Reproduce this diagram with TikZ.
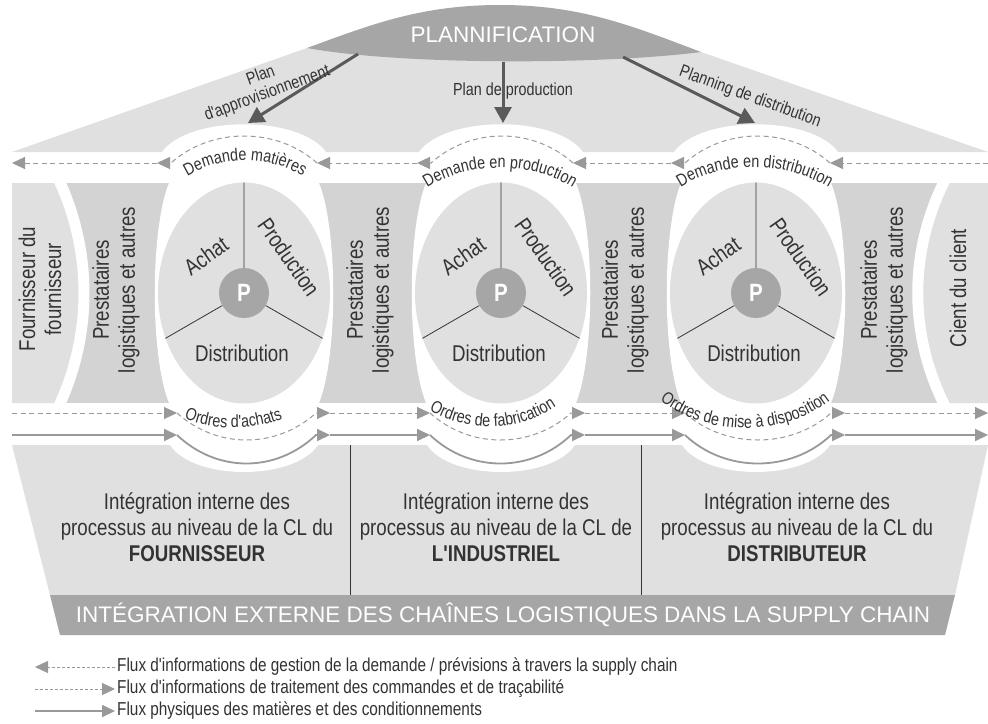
\documentclass[tikz,border=0pt]{standalone}
\usepackage{fontspec}
\setmainfont{Liberation Sans}[FakeStretch=0.82]
\newfontfamily\narrowf{Liberation Sans}[FakeStretch=0.82]
\newfontfamily\capsfont{Liberation Sans}
\usetikzlibrary{arrows.meta,shapes.geometric,decorations.text}

\definecolor{lightg}{HTML}{E0E0E0}
\definecolor{midg}{HTML}{D3D3D3}
\definecolor{darkg}{HTML}{A6A6A6}
\definecolor{flow}{HTML}{999999}
\definecolor{planc}{HTML}{5A5A5A}
\definecolor{txt}{HTML}{333333}

\begin{document}
\begin{tikzpicture}[x=1pt, y=-1pt,
  lbl/.style={font=\narrowf\fontsize{17.5}{19}\selectfont, text=txt, inner sep=0pt, align=center},
  leg/.style={font=\narrowf\fontsize{18.7}{20}\selectfont, text=txt, inner sep=0pt, anchor=west},
  big/.style={font=\narrowf\fontsize{22.8}{26}\selectfont, text=txt, align=center, inner sep=0pt},
  col/.style={big, rotate=90},
  title/.style={font=\capsfont\fontsize{22.5}{26}\selectfont, text=white, inner sep=0pt},
  ell/.style={ellipse, fill=lightg, minimum width=172pt, minimum height=221pt, inner sep=0pt},
  pnode/.style={circle, fill=darkg, minimum size=50pt, inner sep=0pt, text=white,
                font=\narrowf\bfseries\fontsize{25}{28}\selectfont},
  spoke/.style={draw=txt, line width=0.8pt},
  flowbase/.style={draw=flow, -{Triangle[length=13pt,width=12pt]}},
  dem/.style={flowbase, line width=1pt, dash pattern=on 5pt off 3.5pt},
  ord/.style={dem},
  phy/.style={flowbase, line width=1.8pt},
  plan/.style={draw=planc, line width=3pt, -{Triangle[length=16pt,width=17pt]}},
  curv/.style={decorate, decoration={text along path, text align=center,
               text={|\narrowf\fontsize{17.5}{19}\selectfont\color{txt}|#1}}}]
\useasboundingbox (0,0) rectangle (988,723);
\fill[white] (0,0) rectangle (988,723);

% roof and planning
\fill[lightg] (12,152) -- (307,48) -- (701,52) -- (988,152) -- cycle;
\fill[darkg] (307,48) .. controls (370,25) and (420,5) .. (500,5)
  .. controls (580,5) and (630,25) .. (701,52)
  .. controls (600,65) and (400,65) .. cycle;
\node[title] (plan) at (503,35) {PLANNIFICATION};

% columns
\fill[midg] (57,183) rectangle (988,403);
\fill[lightg] (12,183) -- (57,183) .. controls (93,250) and (93,336) .. (57,403) -- (12,403) -- cycle;
\fill[lightg] (988,183) -- (947,183) .. controls (908,250) and (908,336) .. (947,403) -- (988,403) -- cycle;
\draw[white, line width=11pt] (57,176) .. controls (93,250) and (93,336) .. (57,410);
\draw[white, line width=11pt] (947,176) .. controls (908,250) and (908,336) .. (947,410);

% internal / external integration
\fill[lightg] (12,445) -- (988,445) -- (955,595) -- (50,595) -- cycle;
\fill[darkg] (50,595) -- (955,595) -- (945,635) -- (60,635) -- cycle;
\draw[draw=txt, line width=1pt] (350,445) -- (350,595) (641,445) -- (641,595);

% the three actors
\foreach \c/\i in {244/1, 501/2, 756/3} {
  \fill[white] ({\c-82},152) .. controls ({\c-55},115) and ({\c+55},115) .. ({\c+82},152)
    -- ({\c+75},183) .. controls ({\c+94},230) and ({\c+94},356) .. ({\c+75},403)
    -- ({\c+74},445) .. controls ({\c+50},481) and ({\c-50},481) .. ({\c-74},445)
    -- ({\c-75},403) .. controls ({\c-94},356) and ({\c-94},230) .. ({\c-75},183) -- cycle;
  \node[ell] (E\i) at (\c,293) {};
  \node[pnode] (P\i) at (\c,293) {P};
  \draw[spoke] (P\i) -- (E\i.north) (P\i) -- (E\i.210) (P\i) -- (E\i.330);
  \node[big, rotate=35] (A\i) at ({\c-38},256) {Achat};
  \node[big, rotate=-55] (Pr\i) at ({\c+45},257) {Production};
  \node[big] (D\i) at ({\c-2},353) {Distribution};
}

\node[col] (ff) at (40,289) {Fournisseur du\\fournisseur};
\node[col] (pl1) at (116,290) {Prestataires\\logistiques et autres};
\node[col] (pl2) at (370,290) {Prestataires\\logistiques et autres};
\node[col] (pl3) at (625,290) {Prestataires\\logistiques et autres};
\node[col] (pl4) at (884,290) {Prestataires\\logistiques et autres};
\node[col] (cc) at (958,288) {Cient du client};

% planning arrows
\coordinate (pa1) at (358,54); \coordinate (t1) at (248,123);
\coordinate (pa2) at (503,62); \coordinate (t2) at (503,123);
\coordinate (pa3) at (623,57); \coordinate (t3) at (755,123);
\draw[plan] (pa1) -- (t1);
\draw[plan] (pa2) -- (t2);
\draw[plan] (pa3) -- (t3);
\node[lbl, rotate=20] (lpa) at (264,85) {Plan\\d'approvisionnement};
\node[lbl] (lpp) at (513,91) {Plan de production};
\node[lbl, rotate=-20] (lpd) at (750,97) {Planning de distribution};

% demand flow
\coordinate (d1) at (988,163); \coordinate (d2) at (830,163);
\coordinate (d3) at (671,163); \coordinate (d4) at (573,163);
\coordinate (d5) at (417,163); \coordinate (d6) at (317,163);
\coordinate (d7) at (157,163); \coordinate (d8) at (12,163);
\draw[dem] (d1) -- (d2);
\draw[dem] (d3) -- (d4);
\draw[dem] (d5) -- (d6);
\draw[dem] (d7) -- (d8);
\draw[dem] (d2) .. controls +(-40,-36) and +(40,-36) .. ([xshift=14pt]d3) -- (d3);
\draw[dem] (d4) .. controls +(-40,-36) and +(40,-36) .. ([xshift=14pt]d5) -- (d5);
\draw[dem] (d6) .. controls +(-40,-36) and +(40,-36) .. ([xshift=14pt]d7) -- (d7);

% order flow
\coordinate (o1) at (12,413); \coordinate (o2) at (177,413);
\coordinate (o3) at (330,413); \coordinate (o4) at (430,413);
\coordinate (o5) at (585,413); \coordinate (o6) at (685,413);
\coordinate (o7) at (845,413); \coordinate (o8) at (988,413);
\draw[ord] (o1) -- (o2);
\draw[ord] (o3) -- (o4);
\draw[ord] (o5) -- (o6);
\draw[ord] (o7) -- (o8);
\draw[ord] (o2) .. controls +(40,36) and +(-40,36) .. ([xshift=-14pt]o3) -- (o3);
\draw[ord] (o4) .. controls +(40,36) and +(-40,36) .. ([xshift=-14pt]o5) -- (o5);
\draw[ord] (o6) .. controls +(40,36) and +(-40,36) .. ([xshift=-14pt]o7) -- (o7);

% physical flow
\coordinate (f1) at (12,435); \coordinate (f2) at (177,435);
\coordinate (f3) at (330,435); \coordinate (f4) at (430,435);
\coordinate (f5) at (585,435); \coordinate (f6) at (685,435);
\coordinate (f7) at (845,435); \coordinate (f8) at (988,435);
\draw[phy] (f1) -- (f2);
\draw[phy] (f3) -- (f4);
\draw[phy] (f5) -- (f6);
\draw[phy] (f7) -- (f8);
\draw[phy] (f2) .. controls +(40,38) and +(-40,38) .. ([xshift=-14pt]f3) -- (f3);
\draw[phy] (f4) .. controls +(40,38) and +(-40,38) .. ([xshift=-14pt]f5) -- (f5);
\draw[phy] (f6) .. controls +(40,38) and +(-40,38) .. ([xshift=-14pt]f7) -- (f7);

% curved labels
\path[curv={Demande matières}] (175,185) .. controls (215,152) and (275,152) .. (315,185);
\path[curv={Demande en production}] (415,197) .. controls (460,158) and (540,158) .. (585,197);
\path[curv={Demande en distribution}] (670,195) .. controls (715,158) and (790,158) .. (840,195);
\path[curv={Ordres d'achats}] (176,415) .. controls (211,432) and (256,432) .. (291,415);
\path[curv={Ordres de fabrication}] (420,405) .. controls (465,435) and (520,435) .. (565,400);
\path[curv={Ordres de mise à disposition}] (650,392) .. controls (700,440) and (790,440) .. (840,392);

% integration texts
\node[big] (intF) at (197,527) {Intégration interne des\\processus au niveau de la CL du\\\textbf{FOURNISSEUR}};
\node[big] (intI) at (496,527) {Intégration interne des\\processus au niveau de la CL de\\\textbf{L'INDUSTRIEL}};
\node[big] (intD) at (797,527) {Intégration interne des\\processus au niveau de la CL du\\\textbf{DISTRIBUTEUR}};
\node[title] (ext) at (503,615) {INTÉGRATION EXTERNE DES CHAÎNES LOGISTIQUES DANS LA SUPPLY CHAIN};

% legend
\coordinate (l1) at (35,667); \coordinate (l2) at (115,667);
\coordinate (l3) at (35,689); \coordinate (l4) at (115,689);
\coordinate (l5) at (35,711); \coordinate (l6) at (115,711);
\draw[dem, dash pattern=on 3pt off 2pt] (l2) -- (l1);
\draw[ord, dash pattern=on 3pt off 2pt] (l3) -- (l4);
\draw[phy] (l5) -- (l6);
\node[leg] (lg1) at (117,667) {Flux d'informations de gestion de la demande / prévisions à travers la supply chain};
\node[leg] (lg2) at (117,689) {Flux d'informations de traitement des commandes et de traçabilité};
\node[leg] (lg3) at (117,711) {Flux physiques des matières et des conditionnements};
\end{tikzpicture}
\end{document}
